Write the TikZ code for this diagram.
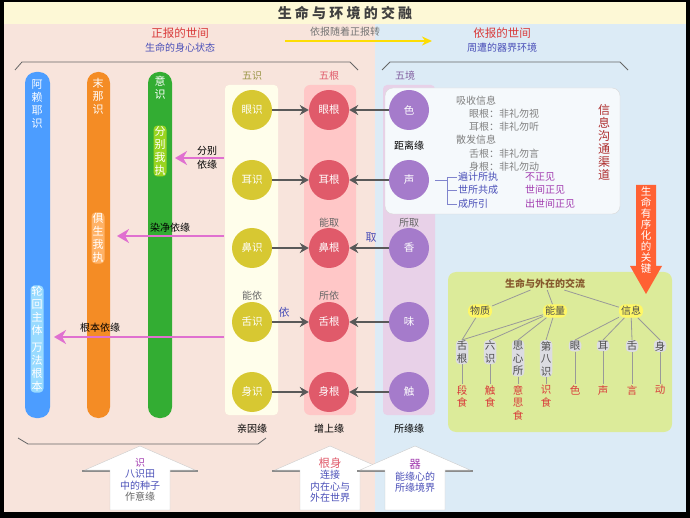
\documentclass[tikz,border=0pt]{standalone}
\usepackage{fontspec}
\setmainfont{Noto Sans CJK SC}
\usetikzlibrary{arrows.meta,shapes.geometric,positioning}
\definecolor{pinkbg}{HTML}{F8E4DC}
\definecolor{bluebg}{HTML}{DCEBF6}
\definecolor{titlebg}{HTML}{FDF8D6}
\definecolor{shiyel}{HTML}{D7C832}
\definecolor{genred}{HTML}{E05A6A}
\definecolor{jingpur}{HTML}{A57BCB}
\definecolor{redtxt}{HTML}{D93A3A}
\definecolor{bluetxt}{HTML}{4A4FB8}
\definecolor{purtxt}{HTML}{A23CB0}
\definecolor{arrpink}{HTML}{E070D0}
\definecolor{greenbox}{HTML}{DCEB9A}
\tikzset{
  txt/.style={font=\fontsize{10}{11}\selectfont, inner sep=1pt},
  vtxt/.style={txt, align=center, font=\fontsize{11}{13}\selectfont},
  ball/.style={circle, minimum size=40pt, inner sep=0pt, text=white, font=\fontsize{10.5}{11}\selectfont},
  shiball/.style={ball, fill=shiyel},
  genball/.style={ball, fill=genred},
  jingball/.style={ball, fill=jingpur},
  link/.style={draw=black!65, line width=2.2pt, -{Stealth[length=9pt,width=10pt]}},
  yuan/.style={draw=arrpink, line width=2pt, -{Stealth[length=12pt,width=14pt]}},
  bar/.style={rounded corners=11pt},
  lvone/.style={txt, fill=yellow!60, rounded corners=6pt, inner sep=2pt, text=black!70},
  lvtwo/.style={vtxt, font=\fontsize{10.5}{12.5}\selectfont, fill=blue!10!gray!25, rounded corners=4pt, text=black!70},
  lvthree/.style={vtxt, font=\fontsize{10.5}{12.5}\selectfont, text=redtxt},
  brace/.style={draw=black!60, line width=0.8pt},
}
\begin{document}
\begin{tikzpicture}[x=1pt,y=-1pt]
\useasboundingbox (0,0) rectangle (690,518);
% background
\fill[black] (0,0) rectangle (690,518);
\fill[titlebg] (4,2) rectangle (686,24);
\fill[pinkbg] (4,24) rectangle (375,512);
\fill[bluebg] (375,24) rectangle (686,512);
\node[font=\fontsize{14}{14}\bfseries\selectfont, text=black!75] (title) at (345,13) {生\ 命\ 与\ 环\ 境\ 的\ 交\ 融};
% headers
\node[txt, text=redtxt, font=\fontsize{11.5}{12}\selectfont] (zheng) at (180,33) {正报的世间};
\node[txt, text=bluetxt] (zhengsub) at (180,48) {生命的身心状态};
\node[txt, text=redtxt, font=\fontsize{11.5}{12}\selectfont] (yi) at (502,33) {依报的世间};
\node[txt, text=bluetxt] (yisub) at (502,48) {周遭的器界环境};
\node[txt, text=black!55] (zhuan) at (345,32) {依报随着正报转};
\coordinate (za) at (285,41); \coordinate (zb) at (432,41);
\draw[draw=yellow!80!orange, line width=2pt, -{Stealth[length=10pt,width=9pt]}] (za) -- (zb);
% braces
\draw[brace] (15,70) -- (22,62) -- (350,62) -- (358,70);
\draw[brace] (382,70) -- (390,62) -- (620,62) -- (628,70);
\draw[brace] (18,438) -- (28,444) -- (258,444) -- (266,438);
% eight consciousness bars
\fill[blue!55!cyan!70!white, bar] (25,72) rectangle (50,418);
\fill[orange!80!brown!90!white, bar] (87,72) rectangle (110,418);
\fill[green!60!black!80!white, bar] (148,72) rectangle (172,418);
\node[vtxt, text=white] (alaiye) at (37,104) {阿\\赖\\耶\\识};
\node[vtxt, text=white] (mona) at (98,96) {末\\那\\识};
\node[vtxt, text=white] (yishi) at (160,88) {意\\识};
\node[vtxt, text=white, fill=yellow!60!green, rounded corners=4pt] (fenbie) at (160,151) {分\\别\\我\\执};
\node[vtxt, text=white, fill=orange!60, rounded corners=4pt] (jusheng) at (98,238) {俱\\生\\我\\执};
\node[vtxt, text=white, fill=blue!35!cyan!40, rounded corners=4pt] (lunhui) at (37,339) {轮\\回\\主\\体\\[4pt]万\\法\\根\\本};
% panels
\fill[yellow!8, rounded corners=4pt] (225,85) rectangle (278,415);
\fill[red!22, rounded corners=6pt] (304,85) rectangle (356,415);
\fill[violet!18, rounded corners=4pt] (383,85) rectangle (435,415);
\fill[white!70!bluebg, rounded corners=8pt, draw=black!15] (385,88) rectangle (620,214);
\node[txt, text=yellow!55!black] (wushi) at (252,76) {五识};
\node[txt, text=genred] (wugen) at (329,76) {五根};
\node[txt, text=jingpur!80!black] (wujing) at (405,76) {五境};
% circles
\foreach \s/\g/\j/\y in {眼/眼/色/110, 耳/耳/声/180, 鼻/鼻/香/248, 舌/舌/味/322, 身/身/触/392}{
  \node[shiball] (s\y) at (252,\y) {\s 识};
  \node[genball] (g\y) at (329,\y) {\g 根};
  \node[jingball] (j\y) at (409,\y) {\j};
  \draw[link] (s\y) -- (g\y);
  \draw[link] (j\y) -- (g\y);
}
\node[txt] (juli) at (409,146) {距离缘};
\node[txt, text=black!60] (nengqu) at (329,223) {能取};
\node[txt, text=black!60] (suoqu) at (409,223) {所取};
\node[txt, text=bluetxt, font=\fontsize{11}{11}\selectfont] (qu) at (371,238) {取};
\node[txt, text=black!60] (nengyi) at (252,296) {能依};
\node[txt, text=black!60] (suoyi) at (329,296) {所依};
\node[txt, text=bluetxt, font=\fontsize{11}{11}\selectfont] (yiz) at (284,312) {依};
\node[txt] (qinyin) at (252,429) {亲因缘};
\node[txt] (zengshang) at (329,429) {增上缘};
\node[txt] (suoyuan) at (409,429) {所缘缘};
% pink arrows
\coordinate (fa) at (224,158); \coordinate (ra) at (224,236); \coordinate (ga) at (224,337);
\draw[yuan] (fa) -- (175,158);
\node[txt, align=center] (fenbieyi) at (207,158) {分别\\[3pt]依缘};
\draw[yuan] (ra) -- (117,236);
\node[txt] (ranjing) at (170,228) {染净依缘};
\draw[yuan] (ga) -- (54,337);
\node[txt] (genben) at (100,328) {根本依缘};
% info box
\begin{scope}[every node/.style={txt, text=black!50, anchor=west}]
\node (xishou) at (455,101) {吸收信息};
\node (yan) at (468,114) {眼根：非礼勿视};
\node (er) at (468,127) {耳根：非礼勿听};
\node (sanfa) at (455,140) {散发信息};
\node (she) at (468,154) {舌根：非礼勿言};
\node (shen) at (468,167) {身根：非礼勿动};
\end{scope}
\node[vtxt, text=redtxt!80!black, font=\fontsize{12}{13}\selectfont] (goutong) at (604,142) {信\\息\\沟\\通\\渠\\道};
\draw[draw=bluetxt!70, line width=0.7pt] (435,180) -- (447,180) (447,177) -- (447,204) -- (457,204) (447,190) -- (457,190) (447,177) -- (457,177);
\begin{scope}[every node/.style={txt, text=bluetxt, anchor=west}]
\node (bianji) at (457,177) {遍计所执};
\node (shisuo) at (457,190) {世所共成};
\node (chengsuo) at (457,204) {成所引};
\end{scope}
\begin{scope}[every node/.style={txt, text=purtxt, anchor=west}]
\node (buzheng) at (524,177) {不正见};
\node (shijian) at (524,190) {世间正见};
\node (chushi) at (524,204) {出世间正见};
\end{scope}
% green box
\fill[greenbox, rounded corners=8pt] (448,272) rectangle (672,432);
\fill[red!55!orange!80] (636,185) rectangle (656,266) -- (662,266) -- (646,294) -- (630,266) -- (636,266);
\node[vtxt, text=white, font=\fontsize{10.5}{11}\selectfont] (guanjian) at (646,230) {生\\命\\有\\序\\化\\的\\关\\键};
\node[txt, text=brown!70!black, font=\fontsize{10}{11}\bfseries\selectfont] (jiaoliu) at (545,284) {生命与外在的交流};
\node[lvone] (wuzhi) at (480,311) {物质};
\node[lvone] (nengliang) at (555,311) {能量};
\node[lvone] (xinxi) at (631,311) {信息};
\foreach \n/\t/\x in {shegen/舌\\根/462, liushi/六\\识/490, sixin/思\\心\\所/518, diba/第\\八\\识/546, yanq/眼/575, erq/耳/603, sheq/舌/632, shenq/身/660}{
  \node[lvtwo, anchor=north] (\n) at (\x,340) {\t};
}
\foreach \n/\t/\x in {duan/段\\食/462, chu/触\\食/490, yisi/意\\思\\食/518, shishi/识\\食/546, se/色/575, sheng/声/603, yan2/言/632, dong/动/660}{
  \node[lvthree, anchor=north] (\n) at (\x,384) {\t};
}
\begin{scope}[draw=black!40, line width=0.8pt]
\draw (jiaoliu) -- (wuzhi); \draw (jiaoliu) -- (nengliang); \draw (jiaoliu) -- (xinxi);
\draw (wuzhi) -- (shegen.north);
\foreach \n in {shegen, liushi, sixin, diba} \draw (nengliang) -- (\n.north);
\foreach \n in {yanq, erq, sheq, shenq} \draw (xinxi) -- (\n.north);
\draw (shegen) -- (duan); \draw (liushi) -- (chu); \draw (sixin) -- (yisi); \draw (diba) -- (shishi);
\draw (yanq) -- (se); \draw (erq) -- (sheng); \draw (sheq) -- (yan2); \draw (shenq) -- (dong);
\end{scope}
% bottom up-arrows
\foreach \cx/\tp in {140/446, 330/446, 415/446}{
  \fill[black!45] (\cx-58,470) rectangle (\cx+58,472);
  \fill[white, draw=black!20] (\cx,\tp) -- (\cx+55,\tp+24) -- (\cx+30,\tp+24) -- (\cx+30,510) -- (\cx-30,510) -- (\cx-30,\tp+24) -- (\cx-55,\tp+24) -- cycle;
}
\node[vtxt, font=\fontsize{10}{11.5}\selectfont] (zhongzi) at (140,480) {\textcolor{purtxt}{识}\\\textcolor{bluetxt}{八识田}\\\textcolor{bluetxt}{中的种子}\\\textcolor{black!60}{作意缘}};
\node[vtxt, font=\fontsize{10}{11.5}\selectfont] (genshen) at (330,480) {\textcolor{genred}{\fontsize{11.5}{11.5}\selectfont 根身}\\\textcolor{bluetxt}{连接}\\\textcolor{bluetxt}{内在心与}\\\textcolor{bluetxt}{外在世界}};
\node[vtxt, font=\fontsize{10}{11.5}\selectfont] (qi) at (415,476) {\textcolor{purtxt}{\fontsize{11.5}{11.5}\selectfont 器}\\\textcolor{bluetxt}{能缘心的}\\\textcolor{bluetxt}{所缘境界}};
\end{tikzpicture}
\end{document}
